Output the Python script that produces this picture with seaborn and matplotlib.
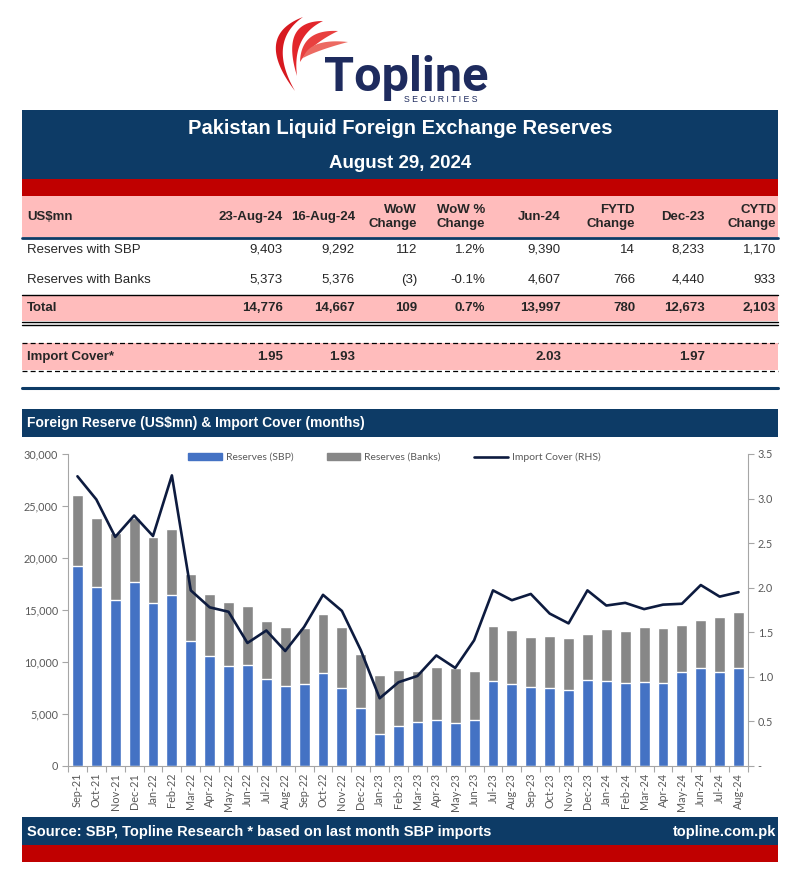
import numpy as np
import matplotlib
matplotlib.use('Agg')
import matplotlib.pyplot as plt
import seaborn as sns
from matplotlib.patches import Rectangle, Polygon, Patch
from matplotlib.lines import Line2D
from matplotlib.ticker import FuncFormatter, MultipleLocator

sns.set_style("white")
plt.rcParams['font.family'] = ['Lato', 'DejaVu Sans']

# Chart data (US$mn, import cover in months)
months = ['Sep-21', 'Oct-21', 'Nov-21', 'Dec-21', 'Jan-22', 'Feb-22', 'Mar-22', 'Apr-22',
          'May-22', 'Jun-22', 'Jul-22', 'Aug-22', 'Sep-22', 'Oct-22', 'Nov-22', 'Dec-22',
          'Jan-23', 'Feb-23', 'Mar-23', 'Apr-23', 'May-23', 'Jun-23', 'Jul-23', 'Aug-23',
          'Sep-23', 'Oct-23', 'Nov-23', 'Dec-23', 'Jan-24', 'Feb-24', 'Mar-24', 'Apr-24',
          'May-24', 'Jun-24', 'Jul-24', 'Aug-24']
sbp = [19270, 17200, 15940, 17680, 15680, 16410, 12060, 10540, 9650, 9750, 8320, 7680,
       7900, 8950, 7520, 5560, 3110, 3840, 4250, 4440, 4100, 4440, 8160, 7840,
       7590, 7460, 7270, 8233, 8220, 8000, 8060, 7970, 9080, 9390, 9080, 9403]
banks = [6760, 6670, 6440, 6120, 6350, 6380, 6440, 5960, 6100, 5620, 5620, 5690,
         5370, 5650, 5850, 5230, 5620, 5430, 4920, 5050, 5330, 4730, 5300, 5240,
         4820, 5040, 5020, 4440, 4950, 4980, 5310, 5300, 4480, 4607, 5240, 5373]
cover = [3.25, 2.99, 2.57, 2.81, 2.58, 3.26, 1.97, 1.78, 1.73, 1.38, 1.52, 1.29,
         1.56, 1.92, 1.74, 1.30, 0.76, 0.94, 1.01, 1.24, 1.10, 1.41, 1.97, 1.86,
         1.93, 1.71, 1.60, 1.97, 1.80, 1.83, 1.76, 1.81, 1.82, 2.03, 1.90, 1.95]
total = [s + b for s, b in zip(sbp, banks)]

# Table data
col_heads = ['23-Aug-24', '16-Aug-24', 'WoW\nChange', 'WoW %\nChange', 'Jun-24',
             'FYTD\nChange', 'Dec-23', 'CYTD\nChange']
row_sbp = ['9,403', '9,292', '112', '1.2%', '9,390', '14', '8,233', '1,170']
row_banks = ['5,373', '5,376', '(3)', '-0.1%', '4,607', '766', '4,440', '933']
row_total = ['14,776', '14,667', '109', '0.7%', '13,997', '780', '12,673', '2,103']
row_cover = ['1.95', '1.93', '', '', '2.03', '', '1.97', '']

NAVY = '#0D3B66'
RED = '#C00000'
PINK = '#FFBCBC'
BLUE = '#4472C4'
GREY = '#878787'
LINE = '#0D1B3F'
LOGO = '#1E2B5E'
ARIAL = ['Liberation Sans', 'DejaVu Sans']
TS = 9.5  # table font size

fig = plt.figure(figsize=(8.01, 8.81), dpi=100)
bg = fig.add_axes([0, 0, 1, 1])
bg.set_xlim(0, 801)
bg.set_ylim(881, 0)
bg.axis('off')


def box(x0, y0, x1, y1, color):
    bg.add_patch(Rectangle((x0, y0), x1 - x0, y1 - y0, color=color, lw=0))


def bez(p0, c, p1, n=40):
    t = np.linspace(0, 1, n)[:, None]
    return (1 - t) ** 2 * np.array(p0) + 2 * (1 - t) * t * np.array(c) + t ** 2 * np.array(p1)


# logo swooshes
strands = [((295, 91), (253, 36), (267, 42), (303, 17), '#D7191F'),
           ((297, 76), (280, 21), (292, 36), (323, 21), '#E2262B'),
           ((300, 62), (301, 29), (311, 44), (338, 31), '#E8403F'),
           ((303, 58), (310, 38), (318, 50), (348, 42), '#EC6A62')]
for s, c_out, c_in, e, col in strands:
    pts = np.vstack([bez(s, c_out, e), bez(e, c_in, s)])
    bg.add_patch(Polygon(pts, closed=True, color=col, lw=0))
bg.text(324, 91, 'Topline', fontsize=35, fontweight='bold', color=LOGO,
        family=['Roboto', 'DejaVu Sans'], va='baseline', ha='left')
bg.text(441, 100, 'S E C U R I T I E S', fontsize=6.3, color=LOGO,
        family=ARIAL, va='center', ha='center')

# title block
box(22, 110, 778, 179, NAVY)
bg.text(400, 128, 'Pakistan Liquid Foreign Exchange Reserves', color='white',
        fontsize=14.5, fontweight='bold', family=ARIAL, ha='center', va='center')
bg.text(400, 163, 'August 29, 2024', color='white', fontsize=13.5,
        fontweight='bold', family=ARIAL, ha='center', va='center')
box(22, 179, 778, 196, RED)

# table
col_right = [283, 355, 417, 485, 561, 635, 705, 776]
box(22, 196, 778, 237, PINK)
bg.plot([22, 778], [238, 238], color=NAVY, lw=2)
bg.text(27, 217, 'US$mn', fontsize=TS, fontweight='bold', family=ARIAL, va='center')
for xr, h in zip(col_right, col_heads):
    bg.text(xr, 217, h, fontsize=TS, fontweight='bold', family=ARIAL,
            ha='right', va='center', multialignment='right', linespacing=1.2)

bg.text(27, 250, 'Reserves with SBP', fontsize=TS, family=ARIAL, va='center')
bg.text(27, 280, 'Reserves with Banks', fontsize=TS, family=ARIAL, va='center')
for xr, a, b in zip(col_right, row_sbp, row_banks):
    bg.text(xr, 250, a, fontsize=TS, family=ARIAL, ha='right', va='center')
    bg.text(xr, 280, b, fontsize=TS, family=ARIAL, ha='right', va='center')

box(22, 295, 778, 321, PINK)
bg.plot([22, 778], [295, 295], color='black', lw=1)
bg.plot([22, 778], [322, 322], color='black', lw=1)
bg.plot([22, 778], [325, 325], color='black', lw=1)
bg.text(27, 308, 'Total', fontsize=TS, fontweight='bold', family=ARIAL, va='center')
for xr, v in zip(col_right, row_total):
    bg.text(xr, 308, v, fontsize=TS, fontweight='bold', family=ARIAL, ha='right', va='center')

box(22, 343, 778, 370, PINK)
bg.plot([22, 778], [343, 343], color='black', lw=0.9, ls=(0, (4, 2.5)))
bg.plot([22, 778], [371, 371], color='black', lw=0.9, ls=(0, (4, 2.5)))
bg.text(27, 357, 'Import Cover*', fontsize=TS, fontweight='bold', family=ARIAL, va='center')
for xr, v in zip(col_right, row_cover):
    bg.text(xr, 357, v, fontsize=TS, fontweight='bold', family=ARIAL, ha='right', va='center')
bg.plot([22, 778], [388, 388], color=NAVY, lw=2.2)

# chart title bar
box(22, 409, 778, 437, NAVY)
bg.text(27, 423, 'Foreign Reserve (US$mn) & Import Cover (months)', color='white',
        fontsize=10, fontweight='bold', family=ARIAL, va='center')

# footer
box(22, 817, 778, 845, NAVY)
box(22, 845, 778, 862, RED)
bg.text(27, 832, 'Source: SBP, Topline Research * based on last month SBP imports',
        color='white', fontsize=10.5, fontweight='bold', family=ARIAL, va='center')
bg.text(776, 832, 'topline.com.pk', color='white', fontsize=10.5,
        fontweight='bold', family=ARIAL, va='center', ha='right')

# chart
W, H = 801, 881
ax = fig.add_axes([68 / W, 1 - 766 / H, 680 / W, 312 / H])
ax.patch.set_alpha(0)
sns.barplot(x=months, y=total, color=GREY, saturation=1, width=0.58, ax=ax)
sns.barplot(x=months, y=sbp, color=BLUE, saturation=1, width=0.58, ax=ax)
ax.set_ylim(0, 30000)
ax.set_xlim(-0.5, len(months) - 0.5)
ax.yaxis.set_major_locator(MultipleLocator(5000))
ax.yaxis.set_major_formatter(FuncFormatter(lambda v, p: f'{v:,.0f}'))
ax.set_xlabel('')
ax.set_ylabel('')

ax2 = ax.twinx()
sns.lineplot(x=np.arange(len(months)), y=cover, color=LINE, lw=1.9, ax=ax2)
ax2.set_ylim(0, 3.5)
ax2.yaxis.set_major_locator(MultipleLocator(0.5))
ax2.yaxis.set_major_formatter(FuncFormatter(lambda v, p: '-' if v == 0 else f'{v:.1f}'))
ax2.set_xlim(-0.5, len(months) - 0.5)

axc = '#A6A6A6'
tc = '#595959'
for a in (ax, ax2):
    for sp in a.spines.values():
        sp.set_visible(False)
ax.spines['left'].set_visible(True)
ax.spines['bottom'].set_visible(True)
ax2.spines['right'].set_visible(True)
for sp in (ax.spines['left'], ax.spines['bottom'], ax2.spines['right']):
    sp.set_color(axc)
    sp.set_linewidth(0.8)

ax.tick_params(axis='y', left=True, length=4, width=0.8, color=axc, labelcolor=tc,
               labelsize=7.8, pad=3)
ax2.tick_params(axis='y', right=True, length=4, width=0.8, color=axc, labelcolor=tc,
                labelsize=7.8, pad=3)
ax.set_xticks(np.arange(len(months)))
ax.set_xticklabels(months, rotation=90)
ax.set_xticks(np.arange(len(months) + 1) - 0.5, minor=True)
ax.tick_params(axis='x', which='major', length=0, labelcolor=tc, labelsize=7.8, pad=5)
ax.tick_params(axis='x', which='minor', bottom=True, length=4, width=0.8, color=axc)

handles = [Patch(color=BLUE, label='Reserves (SBP)'),
           Patch(color=GREY, label='Reserves (Banks)'),
           Line2D([0], [0], color=LINE, lw=1.9, label='Import Cover (RHS)')]
leg = ax2.legend(handles=handles, loc='upper center', bbox_to_anchor=(0.48, 1.035),
                 ncol=3, frameon=False, fontsize=7.5, handlelength=3.2,
                 handleheight=0.6, columnspacing=3.2, handletextpad=0.4)
for t in leg.get_texts():
    t.set_color(tc)

fig.savefig('out.png', dpi=100)
